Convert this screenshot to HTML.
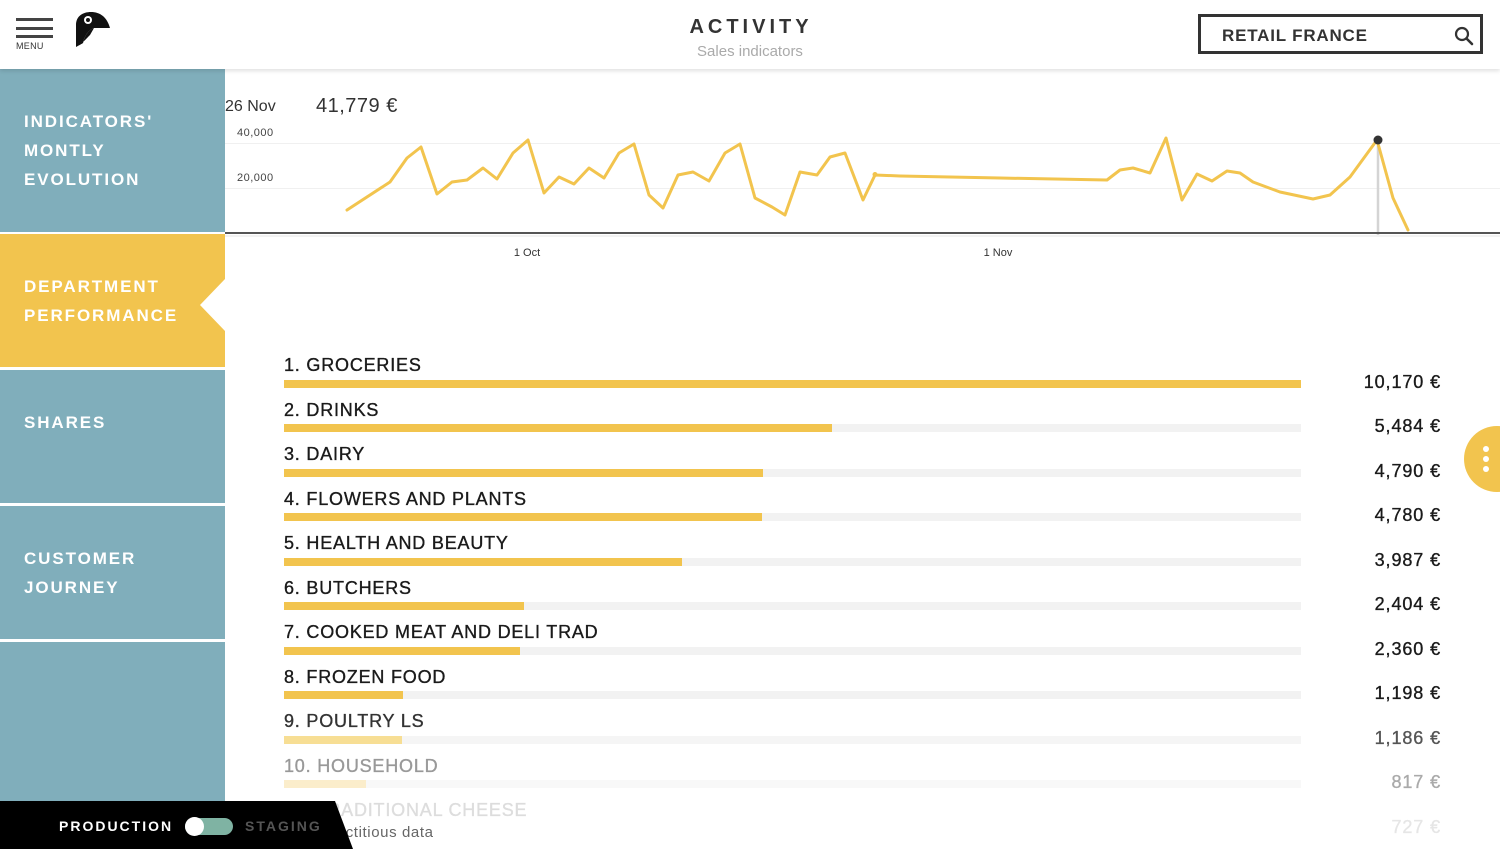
<!DOCTYPE html>
<html>
<head>
<meta charset="utf-8">
<style>
*{margin:0;padding:0;box-sizing:border-box;}
html,body{width:1500px;height:849px;overflow:hidden;background:#fff;font-family:"Liberation Sans",sans-serif;}
.abs{position:absolute;}
.side{position:absolute;left:0;width:225px;background:#80aebb;}
.side .t{position:absolute;left:24px;color:#fff;font-weight:bold;font-size:17px;letter-spacing:1.9px;line-height:29px;}
.lbl{position:absolute;left:284px;font-size:18px;letter-spacing:0.8px;color:#1a1a1a;white-space:nowrap;line-height:20px;-webkit-text-stroke:0.35px currentColor;}
.trk{position:absolute;left:284px;width:1017px;height:8px;background:#f2f2f2;}
.bar{position:absolute;left:0;top:0;height:8px;background:#f2c44e;}
.val{position:absolute;right:59px;font-size:18px;color:#1a1a1a;white-space:nowrap;line-height:20px;letter-spacing:0.9px;-webkit-text-stroke:0.35px currentColor;}
</style>
</head>
<body>
<!-- header -->
<div class="abs" style="left:0;top:0;width:1500px;height:69px;background:#fff;box-shadow:0 2px 4px rgba(0,0,0,0.12);z-index:3;">
  <div class="abs" style="left:16px;top:18px;width:37px;height:3px;background:#444;"></div>
  <div class="abs" style="left:16px;top:27px;width:37px;height:3px;background:#444;"></div>
  <div class="abs" style="left:16px;top:35px;width:37px;height:3px;background:#444;"></div>
  <div class="abs" style="left:16px;top:41px;font-size:9px;color:#333;letter-spacing:0.3px;">MENU</div>
  <svg class="abs" style="left:74px;top:11px;" width="38" height="38" viewBox="0 0 38 38">
    <path d="M2 36 L2 14 C2 5 9 1 17 1 C26 1 33 6 36 17 L20 17 C14 19 10 26 9 32 Z" fill="#111"/>
    <path d="M2 36 L9 32 C10 26 14 19 20 17 L16 24 C12 28 8 33 2 36 Z" fill="#111"/>
    <circle cx="14" cy="9" r="4" fill="#fff"/>
    <circle cx="14" cy="9" r="2" fill="#111"/>
  </svg>
  <div class="abs" style="left:600px;top:16px;width:300px;text-align:center;font-size:20px;font-weight:bold;letter-spacing:4px;color:#333;padding-left:2px;">ACTIVITY</div>
  <div class="abs" style="left:600px;top:43px;width:300px;text-align:center;font-size:15px;color:#aaa;">Sales indicators</div>
  <div class="abs" style="left:1198px;top:14px;width:285px;height:40px;border:3px solid #333;background:#fff;">
    <div class="abs" style="left:21px;top:9px;font-size:17px;font-weight:bold;color:#333;letter-spacing:0.8px;">RETAIL FRANCE</div>
    <svg class="abs" style="left:253px;top:9px;" width="20" height="20" viewBox="0 0 20 20">
      <circle cx="8" cy="8" r="6" fill="none" stroke="#333" stroke-width="2.2"/>
      <line x1="12.5" y1="12.5" x2="18" y2="18" stroke="#333" stroke-width="2.6" stroke-linecap="round"/>
    </svg>
  </div>
</div>

<!-- sidebar -->
<div class="side" style="top:69px;height:163px;"><div class="t" style="top:38px;">INDICATORS'<br>MONTLY<br>EVOLUTION</div></div>
<div class="side" style="top:234px;height:133px;background:#f2c44e;"><div class="t" style="top:38px;">DEPARTMENT<br>PERFORMANCE</div></div>
<svg class="abs" style="left:199px;top:279px;" width="27" height="52"><polygon points="26,0 1,26 26,52" fill="#fff"/></svg>
<div class="side" style="top:370px;height:133px;"><div class="t" style="top:38px;">SHARES</div></div>
<div class="side" style="top:506px;height:133px;"><div class="t" style="top:38px;">CUSTOMER<br>JOURNEY</div></div>
<div class="side" style="top:642px;height:207px;"></div>

<!-- chart -->
<div class="abs" style="left:225px;top:98px;font-size:16px;color:#333;">26 Nov</div>
<div class="abs" style="left:316px;top:95px;font-size:20px;color:#333;letter-spacing:0.5px;">41,779 €</div>
<div class="abs" style="left:237px;top:127px;font-size:11px;color:#444;letter-spacing:0.5px;">40,000</div>
<div class="abs" style="left:237px;top:172px;font-size:11px;color:#444;letter-spacing:0.5px;">20,000</div>
<svg class="abs" style="left:0;top:0;" width="1500" height="260">
  <line x1="225" y1="143.5" x2="1500" y2="143.5" stroke="#f0f0f0" stroke-width="1"/>
  <line x1="225" y1="188.5" x2="1500" y2="188.5" stroke="#f0f0f0" stroke-width="1"/>
  <line x1="1378" y1="140" x2="1378" y2="235" stroke="#d4d4d4" stroke-width="2.5"/>
  <polyline fill="none" stroke="#f2c44e" stroke-width="3" stroke-linejoin="round" stroke-linecap="round"
   points="347,210 390,182 407,158 421,147 437,194 452,182 467,180 483,168 497,179 513,153 528,140 544,193 559,177 574,184 589,168 604,178 619,153 634,144 649,195 663,208 678,175 693,172 709,181 725,153 740,144 755,198 772,207 785,215 800,172 817,175 830,157 845,153 863,200 875,175 900,176 1000,178 1107,180 1120,170 1133,168 1150,173 1166,138 1182,200 1197,174 1212,181 1227,171 1240,173 1253,182 1280,192 1313,199 1330,195 1350,177 1377,140 1393,198 1408,230"/>
  <circle cx="875" cy="174.5" r="2.5" fill="#f2c44e"/>
  <line x1="225" y1="233" x2="1500" y2="233" stroke="#555" stroke-width="2"/>
  <line x1="225" y1="236" x2="1500" y2="236" stroke="#e6e6e6" stroke-width="1"/>
  <circle cx="1378" cy="140" r="4.5" fill="#333"/>
  <text x="527" y="256" font-family="Liberation Sans, sans-serif" font-size="11" fill="#333" text-anchor="middle">1 Oct</text>
  <text x="998" y="256" font-family="Liberation Sans, sans-serif" font-size="11" fill="#333" text-anchor="middle">1 Nov</text>
</svg>

<!-- bars -->
<div class="lbl" style="top:355px;">1. GROCERIES</div>
<div class="trk" style="top:380px;"><div class="bar" style="width:1017px;"></div></div>
<div class="val" style="top:372px;">10,170 €</div>

<div class="lbl" style="top:400px;">2. DRINKS</div>
<div class="trk" style="top:424px;"><div class="bar" style="width:548px;"></div></div>
<div class="val" style="top:416px;">5,484 €</div>

<div class="lbl" style="top:444px;">3. DAIRY</div>
<div class="trk" style="top:469px;"><div class="bar" style="width:479px;"></div></div>
<div class="val" style="top:461px;">4,790 €</div>

<div class="lbl" style="top:489px;">4. FLOWERS AND PLANTS</div>
<div class="trk" style="top:513px;"><div class="bar" style="width:478px;"></div></div>
<div class="val" style="top:505px;">4,780 €</div>

<div class="lbl" style="top:533px;">5. HEALTH AND BEAUTY</div>
<div class="trk" style="top:558px;"><div class="bar" style="width:398px;"></div></div>
<div class="val" style="top:550px;">3,987 €</div>

<div class="lbl" style="top:578px;">6. BUTCHERS</div>
<div class="trk" style="top:602px;"><div class="bar" style="width:240px;"></div></div>
<div class="val" style="top:594px;">2,404 €</div>

<div class="lbl" style="top:622px;">7. COOKED MEAT AND DELI TRAD</div>
<div class="trk" style="top:647px;"><div class="bar" style="width:236px;"></div></div>
<div class="val" style="top:639px;">2,360 €</div>

<div class="lbl" style="top:667px;">8. FROZEN FOOD</div>
<div class="trk" style="top:691px;"><div class="bar" style="width:119px;"></div></div>
<div class="val" style="top:683px;">1,198 €</div>

<div class="lbl" style="top:711px;color:#333;">9. POULTRY LS</div>
<div class="trk" style="top:736px;background:#f5f5f5;"><div class="bar" style="width:118px;background:#f7de94;"></div></div>
<div class="val" style="top:728px;color:#555;">1,186 €</div>

<div class="lbl" style="top:756px;color:#999;">10. HOUSEHOLD</div>
<div class="trk" style="top:780px;background:#f8f8f8;"><div class="bar" style="width:82px;background:#fbedcb;"></div></div>
<div class="val" style="top:772px;color:#aaa;">817 €</div>

<div class="lbl" style="top:800px;color:#ddd;">11. TRADITIONAL CHEESE</div>
<div class="val" style="top:817px;color:#e6e6e6;">727 €</div>
<div class="abs" style="left:332px;top:824px;font-size:15px;color:#666;letter-spacing:0.6px;">Fictitious data</div>

<!-- floating button -->
<div class="abs" style="left:1464px;top:426px;width:66px;height:66px;border-radius:50%;background:#f2c44e;"></div>
<div class="abs" style="left:1483px;top:446px;width:6px;height:6px;border-radius:50%;background:#fff;"></div>
<div class="abs" style="left:1483px;top:456px;width:6px;height:6px;border-radius:50%;background:#fff;"></div>
<div class="abs" style="left:1483px;top:466px;width:6px;height:6px;border-radius:50%;background:#fff;"></div>

<!-- bottom toggle panel -->
<svg class="abs" style="left:0;top:801px;" width="360" height="48"><polygon points="0,0 335,0 353,48 0,48" fill="#000"/></svg>
<div class="abs" style="left:59px;top:818px;font-size:14px;font-weight:bold;color:#fff;letter-spacing:2px;">PRODUCTION</div>
<div class="abs" style="left:185px;top:818px;width:48px;height:17px;border-radius:9px;background:#7fb3a3;"></div>
<div class="abs" style="left:185px;top:817px;width:19px;height:19px;border-radius:50%;background:#fff;"></div>
<div class="abs" style="left:245px;top:818px;font-size:14px;font-weight:bold;color:#555;letter-spacing:2px;">STAGING</div>
</body>
</html>
